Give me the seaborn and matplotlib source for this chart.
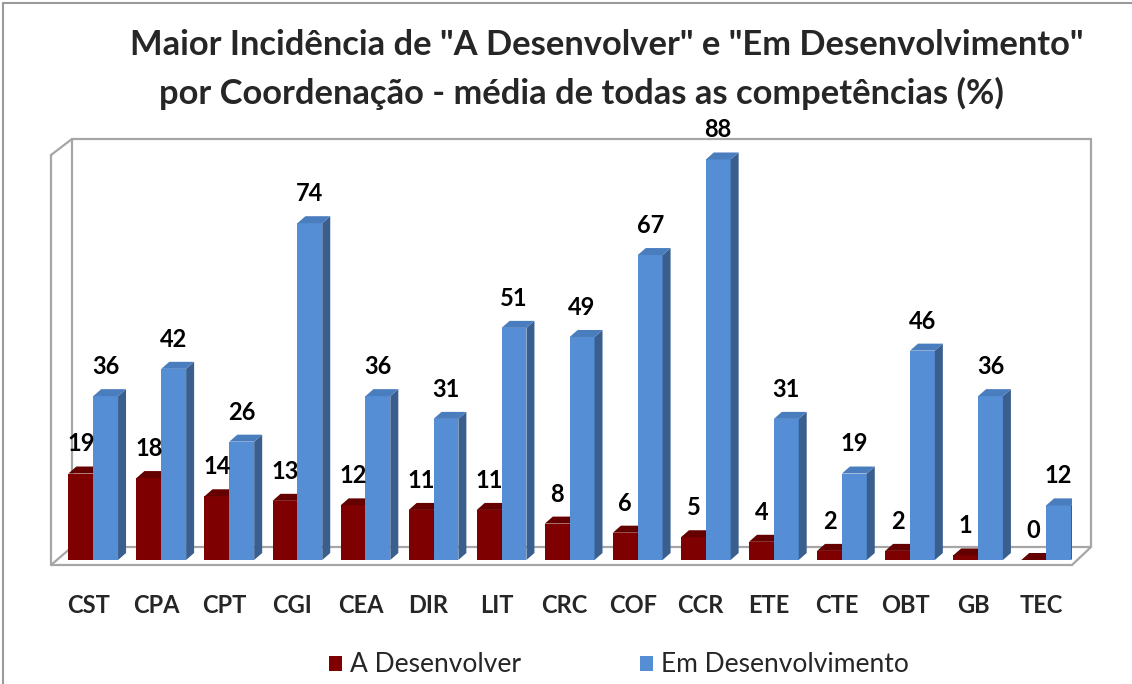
import numpy as np
import pandas as pd
import matplotlib
matplotlib.use("Agg")
import matplotlib.pyplot as plt
import seaborn as sns
from matplotlib.patches import Polygon, Rectangle
from matplotlib.lines import Line2D
from matplotlib.colors import to_hex
from matplotlib.transforms import ScaledTranslation

categories = ["CST", "CPA", "CPT", "CGI", "CEA", "DIR", "LIT", "CRC", "COF",
              "CCR", "ETE", "CTE", "OBT", "GB", "TEC"]
a_desenvolver = [19, 18, 14, 13, 12, 11, 11, 8, 6, 5, 4, 2, 2, 1, 0]
em_desenvolvimento = [36, 42, 26, 74, 36, 31, 51, 49, 67, 88, 31, 19, 46, 36, 12]
series_names = ["A Desenvolver", "Em Desenvolvimento"]
title_lines = ['Maior Incidência de "A Desenvolver" e "Em Desenvolvimento"',
               'por Coordenação - média de todas as competências (%)']

df = pd.DataFrame({
    "Coordenação": categories * 2,
    "Valor": a_desenvolver + em_desenvolvimento,
    "Série": [series_names[0]] * len(categories) + [series_names[1]] * len(categories),
})

W, H = 1132, 684
sns.set_style("white")
plt.rcParams['font.family'] = ['Lato', 'DejaVu Sans']

fig = plt.figure(figsize=(W / 100, H / 100), dpi=100)
fig.patch.set_facecolor("white")


def fx(px):
    return px / W


def fy(py):
    return 1 - py / H


AX_L, AX_R, AX_B, AX_T = 51, 1072, 565, 139
ax = fig.add_axes([fx(AX_L), fy(AX_B), fx(AX_R) - fx(AX_L), fy(AX_T) - fy(AX_B)])
ax.patch.set_alpha(0)

front = {"A Desenvolver": "#7F0000", "Em Desenvolvimento": "#558ED5"}
side = {"#7f0000": "#520000", "#558ed5": "#3A5F8E"}
top = {"#7f0000": "#650000", "#558ed5": "#4A7DBE"}

sns.barplot(data=df, x="Coordenação", y="Valor", hue="Série", palette=front,
            width=0.73, ax=ax, legend=False, saturation=1, linewidth=0)

XMIN, XMAX = -0.62, 14.38
YMIN, YMAX = -1.1, 92.5
ax.set_xlim(XMIN, XMAX)
ax.set_ylim(YMIN, YMAX)
for s in ax.spines.values():
    s.set_visible(False)
ax.set_yticks([])
ax.set_xlabel("")
ax.set_ylabel("")
ax.tick_params(axis="x", length=0, pad=21)
shift = ScaledTranslation(-5 / 100, 0, fig.dpi_scale_trans)
for lab in ax.get_xticklabels():
    lab.set_fontweight("bold")
    lab.set_fontsize(17)
    lab.set_transform(lab.get_transform() + shift)

px_per_x = (AX_R - AX_L) / (XMAX - XMIN)
px_per_y = (AX_B - AX_T) / (YMAX - YMIN)
dx = 8 / px_per_x
dy = 7 / px_per_y

for p in list(ax.patches):
    if not isinstance(p, Rectangle):
        continue
    x0, w, h = p.get_x(), p.get_width(), p.get_height()
    c = to_hex(p.get_facecolor()).lower()
    if c not in side:
        continue
    z = 2 if c == "#7f0000" else 3
    p.set_zorder(z)
    ax.add_patch(Polygon([(x0 + w, 0), (x0 + w + dx, dy), (x0 + w + dx, h + dy), (x0 + w, h)],
                         closed=True, facecolor=side[c], edgecolor="none", zorder=z))
    ax.add_patch(Polygon([(x0, h), (x0 + dx, h + dy), (x0 + w + dx, h + dy), (x0 + w, h)],
                         closed=True, facecolor=top[c], edgecolor="none", zorder=z))
    ax.annotate(f"{int(round(h))}", (x0 + w / 2, h), xytext=(0, 13), textcoords="offset points",
                ha="center", va="bottom", fontsize=17, fontweight="bold", color="black",
                zorder=5, annotation_clip=False)

# 3D frame (walls and floor)
gray = "#A6A6A6"
frame_segments = [
    [(72, 139), (1091, 139)],
    [(72, 139), (72, 547)],
    [(1091, 139), (1091, 547)],
    [(51, 155), (72, 139)],
    [(51, 155), (51, 565)],
    [(51, 565), (1072, 565)],
    [(72, 547), (1091, 547)],
    [(1072, 565), (1091, 547)],
    [(51, 565), (72, 547)],
]
for (x1, y1), (x2, y2) in frame_segments:
    fig.add_artist(Line2D([fx(x1), fx(x2)], [fy(y1), fy(y2)], color=gray, lw=1.6, zorder=0))

# outer chart border
fig.add_artist(Line2D([fx(3), fx(3)], [fy(3), fy(H + 5)], color="#9A9A9A", lw=1.5))
fig.add_artist(Line2D([fx(3), fx(W + 5)], [fy(3), fy(3)], color="#9A9A9A", lw=1.5))

# title, sized to match
renderer = fig.canvas.get_renderer()
t1 = fig.text(fx(607), fy(45), title_lines[0], ha="center", va="center",
              fontsize=24, fontweight="bold")
bb = t1.get_window_extent(renderer)
size = 24 * 955 / bb.width
t1.set_fontsize(size)
t2 = fig.text(fx(581), fy(93), title_lines[1], ha="center", va="center",
              fontsize=size, fontweight="bold")

# legend
handles = [Rectangle((0, 0), 1, 1, facecolor=front[n], edgecolor="none") for n in series_names]
fig.legend(handles, series_names, loc="center", bbox_to_anchor=(fx(619), fy(665)),
           ncol=2, frameon=False, fontsize=19, handlelength=0.5, handleheight=0.5,
           handletextpad=0.3, columnspacing=4.5)

fig.savefig("out.png", dpi=100, facecolor="white")
